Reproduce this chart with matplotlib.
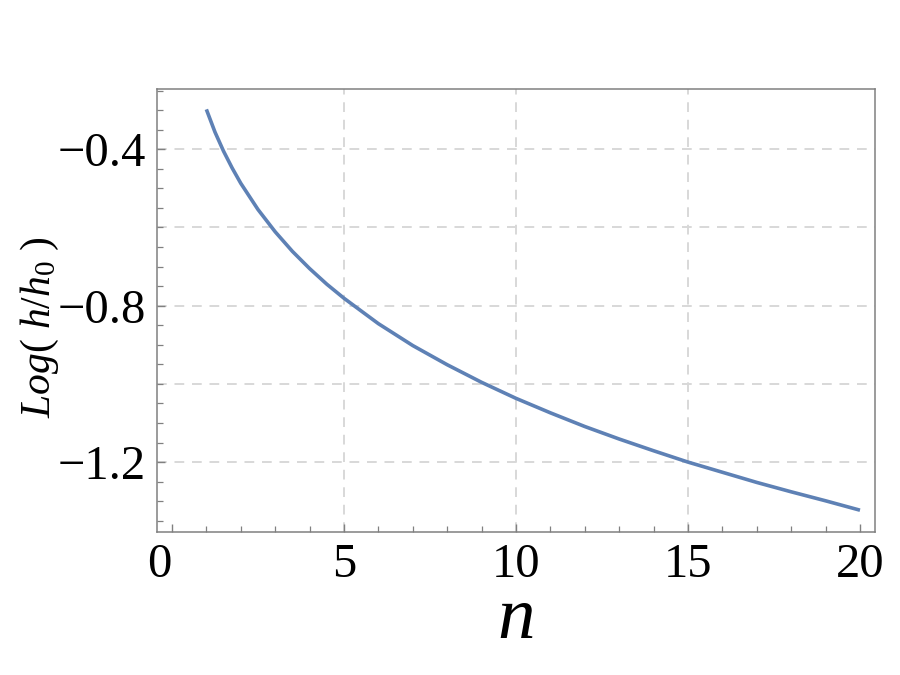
import matplotlib
matplotlib.use("Agg")
import matplotlib.pyplot as plt
from matplotlib.ticker import FixedLocator, MultipleLocator
from matplotlib.transforms import ScaledTranslation

# values
n_vals = [1.0, 1.25, 1.5, 1.75, 2.0, 2.5, 3.0, 3.5, 4.0, 4.5, 5.0,
          6.0, 7.0, 8.0, 9.0, 10.0, 11.0, 12.0, 13.0, 14.0, 15.0,
          16.0, 17.0, 18.0, 19.0, 20.0]
log_h = [-0.298, -0.356, -0.405, -0.448, -0.487, -0.554, -0.611, -0.661,
         -0.705, -0.745, -0.781, -0.846, -0.902, -0.951, -0.996, -1.037,
         -1.074, -1.109, -1.141, -1.171, -1.200, -1.226, -1.252, -1.276,
         -1.299, -1.323]

x_ticks = [0, 5, 10, 15, 20]
x_labels = ["0", "5", "10", "15", "20"]
y_ticks = [-0.4, -0.8, -1.2]
y_labels = ["\u22120.4", "\u22120.8", "\u22121.2"]
x_grid = [5, 10, 15]
y_grid = [-0.4, -0.6, -0.8, -1.0, -1.2]

plt.rcParams['font.family'] = ['Liberation Serif', 'DejaVu Serif']
plt.rcParams['mathtext.fontset'] = 'custom'
plt.rcParams['mathtext.rm'] = 'Liberation Serif'
plt.rcParams['mathtext.it'] = 'Liberation Serif:italic'

fig = plt.figure(figsize=(9, 6.75), dpi=100)
ax = fig.add_axes([0.1744, 0.2123, 0.7978, 0.6558])

for gx in x_grid:
    ax.axvline(gx, color='#d8d8d8', lw=1.4, ls=(0, (5, 4)), zorder=0)
for gy in y_grid:
    ax.axhline(gy, color='#d8d8d8', lw=1.4, ls=(0, (5, 4)), zorder=0)

ax.plot(n_vals, log_h, color='#5e81b5', lw=2.6, solid_capstyle='butt')

ax.set_xlim(-0.436, 20.436)
ax.set_ylim(-1.378, -0.246)

ax.xaxis.set_major_locator(FixedLocator(x_ticks))
ax.set_xticklabels(x_labels)
ax.xaxis.set_minor_locator(MultipleLocator(1))
ax.yaxis.set_major_locator(FixedLocator(y_ticks))
ax.set_yticklabels(y_labels)
ax.yaxis.set_minor_locator(MultipleLocator(0.05))

ax.tick_params(which='both', direction='in', color='#808080', top=False, right=False)
ax.tick_params(which='major', length=6, width=1, labelsize=35, pad=8)
ax.tick_params(which='minor', length=4, width=0.9)

for s in ax.spines.values():
    s.set_color('#808080')
    s.set_linewidth(1.1)

# shift the "0" label slightly left as in the reference
lab0 = ax.get_xticklabels()[0]
lab0.set_transform(lab0.get_transform() + ScaledTranslation(-0.13, 0, fig.dpi_scale_trans))

ax.set_xlabel('n', fontsize=54, fontstyle='italic', labelpad=0)
ax.set_ylabel(r'$Log(\ h/h_0\ )$', fontsize=30)
ax.yaxis.set_label_coords(-0.133, 0.462)

fig.savefig('out.png', dpi=100)
